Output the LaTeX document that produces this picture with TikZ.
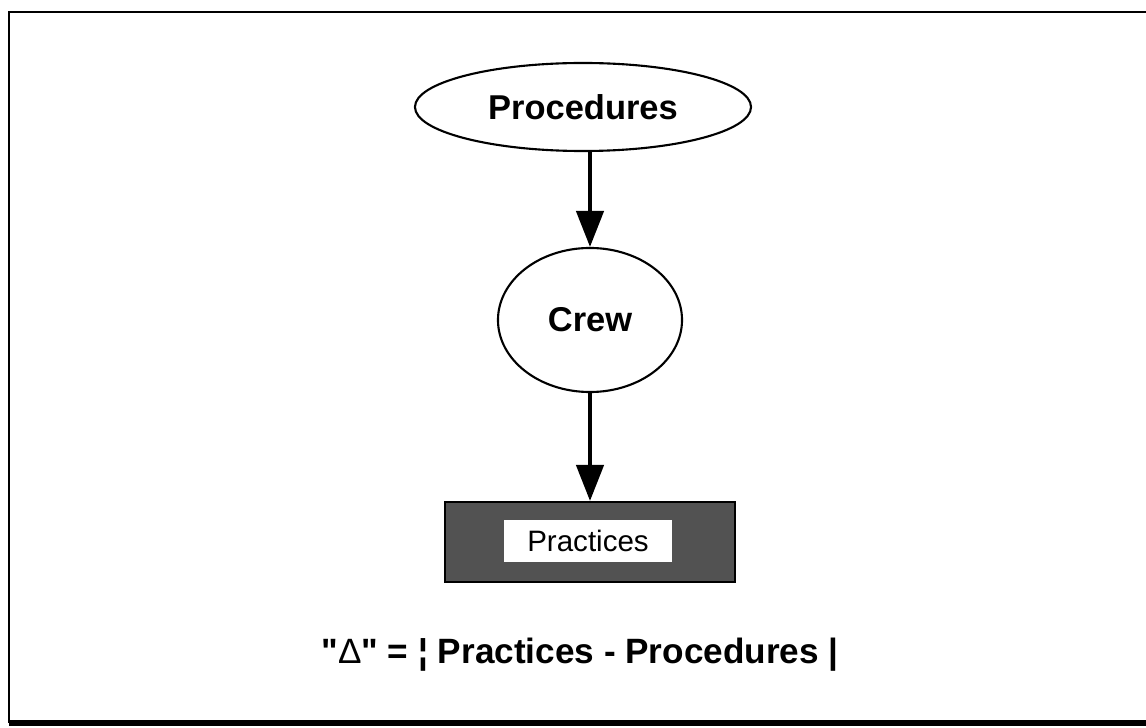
\documentclass[tikz,border=0pt]{standalone}
\usepackage{fontspec}
\setmainfont{Liberation Sans}[Ligatures=TeXOff]
\usetikzlibrary{shapes.geometric}
\usetikzlibrary{arrows.meta}
\tikzset{oval/.style={ellipse,draw,line width=1.5pt,inner sep=0pt},
	flow/.style={-{Triangle[length=0.9cm,width=0.68cm]},line width=2.8pt},
	big/.style={font=\bfseries\fontsize{24.5}{29}\selectfont}}

\begin{document}
\begin{tikzpicture}[x=0.025cm,y=-0.025cm]
		\useasboundingbox (0,0) rectangle (1146,728);
		% frame
		\draw[line width=2pt] (1146,12) -- (9,12) -- (9,723);
		\draw[line width=3.6pt] (9,723) -- (1146,723);
		\begin{scope}[every node/.style={oval,big}]
			\node[minimum width=8.4cm,minimum height=2.2cm] (proc) at (583,107) {Procedures};
			\node[minimum width=4.6cm,minimum height=3.6cm] (crew) at (590,320) {Crew};
		\end{scope}
		\node[draw,line width=1.5pt,fill=black!68,minimum width=7.25cm,minimum height=2cm] (pract) at (590,542) {};
		\node[fill=white,inner sep=0pt,minimum width=4.2cm,minimum height=1.07cm,
			font=\fontsize{21}{25}\selectfont] (practtext) at (588,541) {Practices};
		\node[font=\bfseries\fontsize{25}{30}\selectfont] (delta) at (580,655)
			{"{\mdseries Δ}" = ¦ Practices - Procedures |};
		\draw[flow] (crew.north |- proc.south) -- (crew.north);
		\draw[flow] (crew.south) -- (pract.north);
\end{tikzpicture}
\end{document}
